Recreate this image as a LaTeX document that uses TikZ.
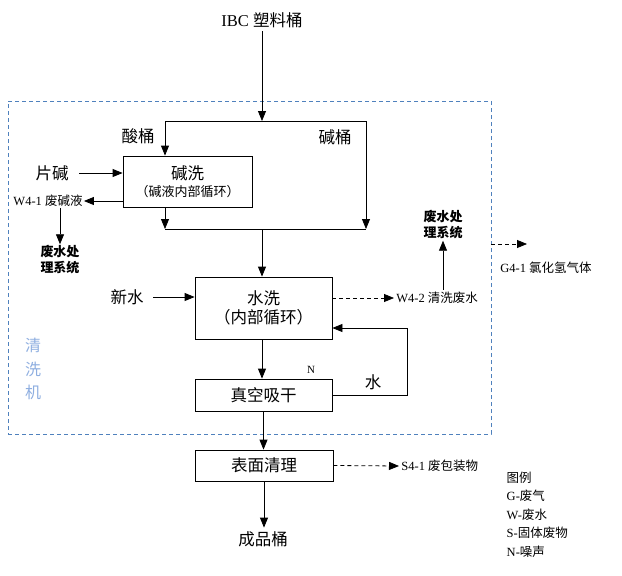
\documentclass[tikz,border=0pt]{standalone}
\usepackage{fontspec}
\setmainfont{Liberation Serif}
\newfontfamily\cjk{Noto Sans CJK SC}
\usetikzlibrary{arrows.meta}
\newcommand\bigf{\fontsize{16.5}{20}\selectfont\cjk}
\newcommand\smallf{\fontsize{12.5}{15}\selectfont}
\newcommand\zh[1]{{\cjk #1}}
\definecolor{framecol}{HTML}{4F81BD}
\definecolor{machcol}{HTML}{8EAEE0}
\begin{document}
\begin{tikzpicture}[>={Triangle[length=10pt,width=8pt]}, x=1pt, y=-1pt, line width=.8pt,
  box/.style={draw, inner sep=0pt, align=center},
  big/.style={font=\bigf},
  small/.style={font=\smallf},
  wsys/.style={font=\fontsize{13}{16}\selectfont\cjk\bfseries, align=center, inner sep=1pt},
  dashline/.style={dash pattern=on 4pt off 3pt}]
\useasboundingbox (0,0) rectangle (622,576);
% cleaning machine frame
\node[draw=framecol, dashline, line width=.7pt, minimum width=483pt, minimum height=333pt] (machine) at (249.5,267.5) {};
\node[big, text=machcol, align=center, font=\fontsize{16}{23.5}\selectfont\cjk] (mach) at (33,369) {清\\洗\\机};

\node[font=\fontsize{16.5}{20}\selectfont] (ibc) at (262,20) {IBC \zh{塑料桶}};
\coordinate (top) at (262,121);
\coordinate (tl) at (165,121);
\coordinate (tr) at (366,121);
\coordinate (bl) at (165,229);
\coordinate (br) at (366,229);
\coordinate (bm) at (262,229);

\node[box, minimum width=129pt, minimum height=51pt] (alk) at (187.5,181.5)
  {{\bigf 碱洗}\\[3pt]{\fontsize{13}{15}\selectfont\cjk （碱液内部循环）}};
\node[box, minimum width=137pt, minimum height=62pt] (water) at (263.5,308)
  {{\bigf 水洗}\\[3pt]{\bigf （内部循环）}};
\node[box, big, minimum width=137pt, minimum height=32pt] (vac) at (263.5,395) {真空吸干};
\node[box, big, minimum width=138pt, minimum height=31pt] (surf) at (264,465.5) {表面清理};
\node[big] (prod) at (263,539) {成品桶};

\node[big] (acid) at (138,136) {酸桶};
\node[big] (base) at (335,137) {碱桶};
\node[big] (flake) at (52,173) {片碱};
\node[big] (fresh) at (127,297) {新水};
\node[big] (wlab) at (373,382) {水};
\node[font=\fontsize{11}{13}\selectfont] (noise) at (311,370) {N};

\node[small, inner sep=1pt] (w41) at (48,201) {W4-1 \zh{废碱液}};
\node[wsys] (ws1) at (60,260) {废水处\\理系统};
\node[small, anchor=west, inner sep=2pt] (w42) at (394,298) {W4-2 \zh{清洗废水}};
\node[wsys] (ws2) at (443,225) {废水处\\理系统};
\node[small] (g41) at (546,268) {G4-1 \zh{氯化氢气体}};
\node[small, anchor=west, inner sep=2pt] (s41) at (399,466) {S4-1 \zh{废包装物}};
\node[small, anchor=north west, align=left, font=\fontsize{12.5}{18.5}\selectfont] (legend) at (503,468)
  {\zh{图例}\\G-\zh{废气}\\W-\zh{废水}\\S-\zh{固体废物}\\N-\zh{噪声}};

% main flow
\draw[->] (ibc) -- (top);
\draw (tl) -- (tr);
\draw[->] (tl) -- (tl |- alk.north);
\draw[->] (tr) -- (br);
\draw[->] (alk.south -| bl) -- (bl);
\draw (bl) -- (br);
\draw[->] (bm) -- (bm |- water.north);
\draw[->] (water.south -| bm) -- (vac.north -| bm);
\draw[->] (vac.south) -- (vac.south |- surf.north);
\draw[->] (surf.south) -- (surf.south |- prod.north);

% inputs
\draw[->] ([xshift=7pt]flake.east) -- (flake -| alk.west);
\draw[->] ([xshift=6pt]fresh.east) -- (fresh -| water.west);
\coordinate (lb) at (407,395);
\coordinate (lt) at (407,328);
\draw[->] (vac.east) -- (lb) -- (lt) -- (lt -| water.east);

% outputs
\draw[->] (alk.west |- w41) -- (w41.east);
\draw[->] (ws1 |- w41.south) -- (ws1.north);
\draw[->, dashline] (water.east |- w42) -- (w42.west);
\draw[->] (ws2 |- w42.north) -- (ws2.south);
\draw[->, dashline] (machine.east |- 0,244) -- (527,244);
\draw[->, dashline] (surf.east) -- (s41.west);
\end{tikzpicture}
\end{document}
